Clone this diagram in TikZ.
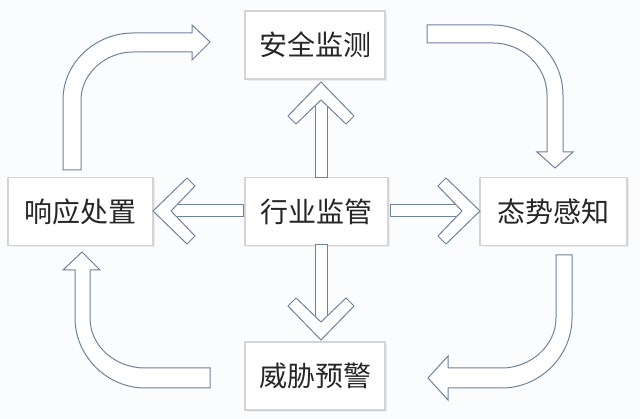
\documentclass[tikz,border=0pt]{standalone}
\usepackage{fontspec}
\newfontfamily\cjk{Noto Sans CJK SC}
\usetikzlibrary{shadows}
\definecolor{bord}{RGB}{110,130,158}
\definecolor{bg}{RGB}{251,252,253}
\definecolor{boxline}{RGB}{212,212,212}
\tikzset{
  box/.style={draw=boxline,line width=1.5pt,fill=white,minimum height=68pt,inner sep=0pt,
    font=\cjk\fontsize{28}{28}\selectfont,text=black!85,
    drop shadow={shadow xshift=2pt,shadow yshift=-2pt,fill=black!12}},
  arr/.style={draw=bord,line width=1pt,fill=white,line join=miter}
}
\newcommand\chevarrow[3]{%
  \begin{scope}[shift={(#1)},rotate=#2]
    \draw[arr] (-#3,-6) rectangle (-15,6);
    \draw[arr] (0,0) -- (-34,-33) -- (-42,-25) -- (-18,0) -- (-42,25) -- (-34,33) -- cycle;
  \end{scope}}
\begin{document}
\begin{tikzpicture}[x=1pt,y=-1pt]
\fill[bg] (0,0) rectangle (640,419);
\useasboundingbox (0,0) rectangle (640,419);
% boxes
\node[box,minimum width=140pt] (aq) at (315,45) {安全监测};
\node[box,minimum width=145pt] (xy) at (80.5,211.5) {响应处置};
\node[box,minimum width=143pt] (hy) at (316.5,211.5) {行业监管};
\node[box,minimum width=147pt] (ts) at (553.5,211.5) {态势感知};
\node[box,minimum width=140pt] (wx) at (315,376) {威胁预警};
% straight arrows from center
\chevarrow{153,211}{180}{90}
\chevarrow{480,211}{0}{90}
\chevarrow{321,82}{90}{96}
\chevarrow{321,340}{-90}{95}
% curved arrows
\draw[arr] (63,170) -- (63,100) .. controls (63,62) and (96,33) .. (133,33) -- (192,33) -- (192,25) -- (210,42) -- (192,60) -- (192,52) -- (133,52) .. controls (105,52) and (81,74) .. (81,100) -- (81,170) -- cycle;
\draw[arr] (427,25) -- (493,25) .. controls (531,25) and (563,57) .. (563,95) -- (563,152) -- (573,152) -- (555,168) -- (537,152) -- (547,152) -- (547,95) .. controls (547,66) and (522,43) .. (493,43) -- (427,43) -- cycle;
\draw[arr] (572,255) -- (572,318) .. controls (572,356) and (540,388) .. (502,388) -- (448,388) -- (448,400) -- (428,378) -- (448,356) -- (448,368) -- (502,368) .. controls (530,368) and (556,346) .. (556,318) -- (556,255) -- cycle;
\draw[arr] (210,388) -- (145,388) .. controls (107,388) and (75,356) .. (75,318) -- (75,270) -- (63,270) -- (82,252) -- (100,270) -- (90,270) -- (90,318) .. controls (90,346) and (115,368) .. (145,368) -- (210,368) -- cycle;
\end{tikzpicture}
\end{document}
